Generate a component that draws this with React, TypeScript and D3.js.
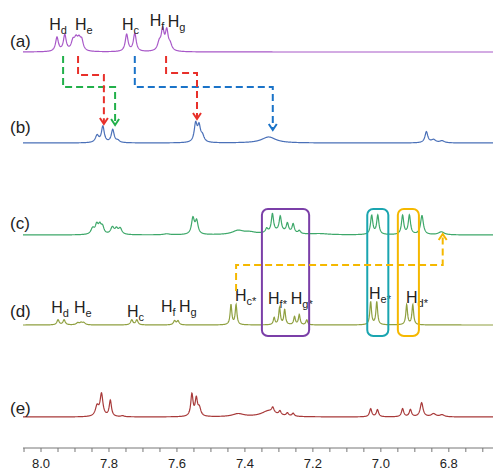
import React from "react";
import * as d3 from "d3";

// peak lists: [ppm, height, half width (ppm)]
type Peak = [number, number, number];

const peaksA: Peak[] = [
  [7.953, 14, 0.005], [7.93, 16, 0.005], [7.906, 9, 0.006], [7.897, 10, 0.006],
  [7.888, 10, 0.006], [7.88, 9, 0.005], [7.748, 17, 0.005], [7.724, 18, 0.005],
  [7.652, 8, 0.006], [7.642, 20, 0.005], [7.63, 19, 0.005], [7.62, 6, 0.006],
];
const peaksB: Peak[] = [
  [7.835, 7, 0.006], [7.818, 16, 0.005], [7.789, 13, 0.005], [7.774, 2, 0.006],
  [7.545, 18, 0.005], [7.535, 15, 0.005], [7.525, 6, 0.006], [7.33, 6, 0.025],
  [6.866, 11, 0.005], [6.845, 3, 0.008], [6.82, 2, 0.008],
];
const peaksC: Peak[] = [
  [7.848, 6, 0.006], [7.836, 9, 0.005], [7.827, 8, 0.005], [7.819, 7, 0.005],
  [7.79, 7, 0.006], [7.778, 5, 0.005], [7.767, 6, 0.006], [7.63, 1, 0.01],
  [7.553, 16, 0.005], [7.542, 13, 0.005], [7.42, 4, 0.02], [7.385, 2, 0.02],
  [7.3, 3, 0.04], [7.336, 4, 0.004], [7.319, 18, 0.004], [7.296, 15, 0.004],
  [7.275, 9, 0.004], [7.258, 9, 0.004], [7.24, 3, 0.004], [7.18, 1, 0.03],
  [7.027, 19, 0.004], [7.009, 19, 0.004], [6.936, 19, 0.004], [6.916, 19, 0.004],
  [6.879, 19, 0.005], [6.822, 3, 0.01],
];
const peaksD: Peak[] = [
  [7.95, 5, 0.004], [7.932, 5, 0.004], [7.892, 2, 0.005], [7.882, 2, 0.005],
  [7.874, 2, 0.005], [7.733, 5, 0.004], [7.718, 5, 0.004], [7.607, 4, 0.004],
  [7.597, 4, 0.004], [7.441, 20, 0.003], [7.426, 20, 0.003], [7.314, 7, 0.003],
  [7.298, 17, 0.003], [7.283, 15, 0.003], [7.254, 8, 0.003], [7.24, 10, 0.003],
  [7.218, 5, 0.003], [7.03, 23, 0.003], [7.012, 23, 0.003], [6.924, 20, 0.003],
  [6.906, 20, 0.003],
];
const peaksE: Peak[] = [
  [7.835, 10, 0.006], [7.822, 22, 0.005], [7.796, 16, 0.004], [7.76, 1, 0.005],
  [7.556, 22, 0.004], [7.543, 17, 0.004], [7.534, 8, 0.005], [7.42, 3, 0.02],
  [7.33, 6, 0.025], [7.318, 5, 0.004], [7.297, 4, 0.004], [7.275, 3, 0.004],
  [7.258, 3, 0.004], [7.03, 8, 0.004], [7.01, 7, 0.004], [6.936, 8, 0.004],
  [6.913, 7, 0.004], [6.88, 14, 0.005], [6.845, 3, 0.008], [6.82, 2, 0.008],
];

const spectrumNames = ["(a)", "(b)", "(c)", "(d)", "(e)"];
const spectrumPeaks = [peaksA, peaksB, peaksC, peaksD, peaksE];
const spectrumColors = ["#a858c8", "#4a70b8", "#3ea86a", "#8fa040", "#a83a3a"];
const baselines = [52, 143, 235, 325, 417];
const labelBaselines = [47, 133, 229, 317, 414];

const tickValues = d3.range(0, 28).map((i) => +(8.05 - i * 0.05).toFixed(2));

// proton labels: [sub, ppm of left edge, baseline y]
const labelsA: [string, number, number][] = [
  ["d", 7.976, 30], ["e", 7.9, 30], ["c", 7.762, 30], ["f", 7.68, 26], ["g", 7.627, 27],
];
const labelsD: [string, number, number][] = [
  ["d", 7.97, 313], ["e", 7.903, 313], ["c", 7.747, 317], ["f", 7.647, 312], ["g", 7.594, 312],
  ["c*", 7.429, 301], ["f*", 7.332, 304], ["g*", 7.265, 304], ["e*", 7.035, 299], ["d*", 6.926, 303],
];

// dashed connectors: [colour, ppm from, ppm to, y start, y turn, y end]
const connectors: [string, number, number, number, number, number][] = [
  ["#1a73c8", 7.724, 7.318, 56, 87, 130],
  ["#22b04a", 7.935, 7.782, 56, 87, 125],
  ["#e8302a", 7.891, 7.815, 56, 75, 124],
  ["#e8302a", 7.632, 7.541, 56, 73, 119],
  ["#f5b800", 7.426, 6.818, 291, 265, 234],
];

// boxes: [colour, ppm left, ppm right]
const boxes: [string, number, number][] = [
  ["#7b3fa8", 7.35, 7.211],
  ["#1aa5b0", 7.04, 6.978],
  ["#f5b800", 6.95, 6.888],
];

const W = 493;
const H = 473;
const font = "'Liberation Sans', Arial, sans-serif";

export default function App() {
  const x = d3.scaleLinear().domain([8.053, 6.67]).range([23, 493]);
  const grid = d3.range(8.053, 6.669, -0.0008);

  const lineFor = (peaks: Peak[], base: number) => {
    const pts = grid.map((p) => {
      const v = d3.sum(peaks, ([c, h, w]) => h / (1 + ((p - c) / w) ** 2));
      return [p, base - v] as [number, number];
    });
    return d3
      .line<[number, number]>()
      .x((d) => x(d[0]))
      .y((d) => d[1])(pts);
  };

  const axisY = 448;

  return (
    <svg width={W} height={H} style={{ position: "absolute", left: 0, top: 0, background: "#fff" }}>
      {spectrumPeaks.map((pk, i) => (
        <path key={i} d={lineFor(pk, baselines[i]) || ""} fill="none" stroke={spectrumColors[i]} strokeWidth={1.2} />
      ))}

      {spectrumNames.map((n, i) => (
        <text key={n} x={10} y={labelBaselines[i]} fontFamily={font} fontSize={17} fill="#222">
          {n}
        </text>
      ))}

      {[...labelsA, ...labelsD].map(([s, p, y], i) => (
        <text key={i} x={x(p)} y={y} fontFamily={font} fontSize={16} fill="#222">
          H
          <tspan fontSize={11} dy={4}>{s}</tspan>
        </text>
      ))}

      {boxes.map(([c, a, b], i) => (
        <rect key={i} x={x(a)} y={209} width={x(b) - x(a)} height={127} rx={6} fill="none" stroke={c} strokeWidth={2} />
      ))}

      {connectors.map(([c, p0, p1, y0, y1, y2], i) => {
        const dir = y2 > y1 ? 1 : -1;
        return (
          <g key={i} stroke={c} strokeWidth={2} fill="none">
            <path
              d={`M${x(p0)},${y0}V${y1}H${x(p1)}V${y2 - dir * 2}`}
              strokeDasharray="7,4"
            />
            <path d={`M${x(p1) - 4},${y2 - dir * 6}L${x(p1)},${y2}L${x(p1) + 4},${y2 - dir * 6}`} />
          </g>
        );
      })}

      <g>
        <line x1={23} x2={493} y1={axisY} y2={axisY} stroke="#777" strokeWidth={1} />
        {tickValues.map((t) => (
          <line key={t} x1={x(t)} x2={x(t)} y1={axisY} y2={axisY + 4} stroke="#777" strokeWidth={1} />
        ))}
        {tickValues
          .filter((t) => Math.abs(Math.round(t * 5) - t * 5) < 1e-6)
          .map((t) => (
            <text key={t} x={x(t)} y={468} textAnchor="middle" fontFamily={font} fontSize={13} fill="#222">
              {d3.format(".1f")(t)}
            </text>
          ))}
      </g>
    </svg>
  );
}
